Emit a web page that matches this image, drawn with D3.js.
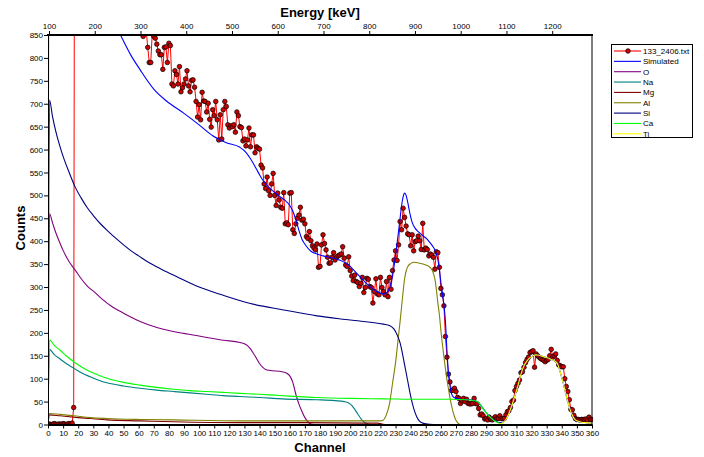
<!DOCTYPE html>
<html><head><meta charset="utf-8">
<script src="https://cdn.jsdelivr.net/npm/d3@7/dist/d3.min.js"></script>
<style>
body{margin:0;background:#fff}
svg{display:block}
text{font-family:"Liberation Sans",Arial,sans-serif;fill:#000}
</style>
</head><body>
<svg id="chart" width="704" height="457"></svg>
<script>
// ---------------- DATA ----------------
// measured spectrum: counts per channel, channel 0..360
const measuredCounts = [
  0,1,0,0,2,1,0,1,1,0,
  2,1,0,1,2,1,3,37,2150,2080,
  1990,1930,1870,1790,1740,1690,1620,1580,1530,1470,
  1440,1400,1350,1320,1290,1250,1230,1190,1170,1140,
  1110,1090,1080,1050,1030,1020,990,980,960,950,
  930,925,910,905,895,890,880,885,870,875,
  862,868,858,847,870,860,823,790,790,855,
  847,843,830,815,807,807,775,823,824,790,
  832,827,743,739,772,764,743,781,726,735,
  743,754,772,739,726,751,752,736,705,671,
  698,665,725,706,705,682,701,666,649,687,
  674,705,665,621,676,623,687,705,694,654,
  647,652,650,654,638,682,674,650,648,619,
  623,608,621,647,606,632,632,593,606,603,
  601,566,560,525,515,540,510,500,525,548,
  500,478,505,490,474,472,506,438,440,436,
  505,506,425,417,438,450,457,474,446,448,
  438,410,406,421,401,390,385,381,394,343,
  345,392,414,395,381,365,352,353,365,375,
  359,365,368,370,372,388,363,348,345,366,
  336,324,314,326,312,310,301,308,321,288,
  299,319,317,301,299,265,290,318,285,283,
  321,299,290,283,312,279,321,295,336,359,
  379,358,392,443,425,472,452,433,416,414,
  390,414,379,399,401,411,401,382,439,381,
  385,382,368,372,370,365,339,377,375,343,
  297,283,259,192,147,110,93,74,75,79,
  72,59,57,46,52,57,50,55,46,45,
  45,46,57,46,45,35,21,23,19,12,
  13,10,16,11,10,13,17,13,13,19,
  13,13,13,21,28,30,37,50,53,74,
  83,90,97,113,115,125,135,142,147,157,
  159,161,125,154,150,147,144,142,140,137,
  140,142,150,164,147,150,154,140,130,128,
  126,126,100,83,72,54,33,32,20,13,
  11,11,10,11,11,11,12,10,16,11,
  11
];

// simulated and elemental spectra: [channel, counts]
const simulatedSpectrum = [[0,0],[1,1570],[6,1380],[12,1230],[18,1130],[25,1030],[32,960],[40,905],[48,850],[55,805],[61,774],[70,732],[78,707],[90,679],[100,654],[109,630],[118,615],[127,605],[131,594],[134,580],[136,569],[138,557],[140,545],[142,534],[145,522],[148,512],[151,504],[154,496],[157,489],[160,478],[162,466],[164,447],[166,424],[168,405],[171,389],[174,378],[178,372],[182,368],[189,363],[195,356],[200,345],[204,331],[208,317],[211,307],[215,296],[219,288],[222,285],[224,287],[226,298],[228,324],[229,345],[230,370],[231,395],[232,422],[233,450],[234,478],[235,497],[236,505],[237,500],[238,486],[239,469],[240,453],[241,441],[243,428],[245,421],[248,412],[251,404],[253,396],[255,387],[256,381],[257,372],[258,360],[259,338],[260,310],[261,285],[262,262],[263,225],[264,162],[265,112],[266,85],[267,68],[268,61],[270,57],[273,55],[280,54],[283,51],[285,47],[287,39],[289,30],[291,22],[293,15],[295,10],[297,6],[299,4],[301,5],[303,11],[305,24],[307,42],[309,63],[311,85],[313,110],[315,128],[317,139],[319,146],[321,150],[323,152],[325,151],[327,149],[329,147],[331,145],[333,142],[335,139],[337,134],[338,125],[339,114],[340,102],[341,90],[342,76],[343,62],[344,50],[345,38],[346,28],[347,20],[348,14],[349,10],[351,7],[353,5],[356,4],[360,3]];

const spectrumO = [[0,0],[1,460],[3,440],[5,420],[8,395],[10,380],[14,355],[18,337],[22,318],[26,302],[30,291],[36,273],[42,258],[50,243],[61,225],[70,214],[83,203],[95,196],[105,190],[116,184],[127,179],[130,176],[132,172],[134,165],[136,155],[138,144],[140,133],[142,125],[144,120],[147,118],[155,115],[158,112],[160,106],[162,92],[164,66],[166,45],[168,29],[170,15],[172,6],[174,1],[176,0]];

const spectrumNa = [[0,0],[1,164],[4,153],[8,143],[12,133],[17,123],[22,113],[28,104],[34,96],[39,91],[50,84],[61,79],[72,75],[83,72],[94,69],[105,66],[116,63],[127,61],[140,59],[155,56],[178,54],[190,52],[196,50],[199,47],[201,42],[203,33],[205,23],[207,13],[209,6],[211,2],[213,0]];

const spectrumMg = [[0,0],[1,21],[8,19],[17,16],[28,13],[39,10],[61,8],[83,6],[127,4],[170,4],[210,3],[218,3],[221,1],[223,0]];

const spectrumAl = [[0,0],[1,24],[8,22],[17,19],[28,15],[39,13],[61,11],[83,10],[127,8],[160,8],[220,8],[222,10],[224,22],[226,45],[228,90],[230,135],[232,195],[233,225],[234,257],[235,290],[236,318],[237,335],[238,344],[240,351],[242,354],[246,352],[250,348],[252,345],[254,338],[255,330],[256,318],[257,295],[258,265],[259,240],[260,205],[261,175],[262,148],[263,122],[264,98],[265,78],[266,58],[267,42],[268,28],[269,17],[270,9],[271,4],[272,1],[273,0]];

const spectrumSi = [[0,0],[1,708],[3,672],[5,642],[8,606],[10,585],[14,550],[18,518],[22,494],[26,473],[30,456],[35,437],[40,421],[45,406],[50,392],[55,379],[60,368],[67,353],[75,339],[85,323],[100,300],[115,283],[134,264],[156,250],[178,237],[200,228],[222,219],[226,216],[229,208],[231,196],[233,178],[234,164],[236,130],[238,96],[240,62],[242,35],[244,17],[246,7],[248,3],[251,1],[255,0]];

const spectrumCa = [[0,0],[1,185],[4,173],[8,162],[12,150],[17,137],[22,126],[28,115],[34,107],[39,101],[50,92],[61,86],[72,81],[83,77],[94,74],[105,72],[116,70],[127,68],[140,66],[150,64],[160,62],[178,59],[200,57],[222,56],[250,55],[266,55],[277,54],[282,52],[284,50],[286,44],[288,34],[290,26],[292,18],[294,12],[296,7],[298,4],[300,1],[302,0]];

const spectrumTi = [[296,0],[299,1],[301,4],[303,11],[305,24],[307,42],[309,63],[311,85],[313,110],[315,128],[317,139],[319,146],[321,150],[323,152],[325,151],[327,149],[329,147],[331,145],[333,142],[335,139],[337,134],[338,125],[339,114],[340,102],[341,90],[342,76],[343,62],[344,50],[345,38],[346,28],[347,20],[348,14],[349,10],[351,7],[353,5],[356,4],[360,3]];

const seriesNames = ["133_2406.txt","Simulated","O","Na","Mg","Al","Si","Ca","Ti"];
const channelDomain = [0, 360];
const countDomain = [0, 850];
const energyDomain = [97.8, 1287];
const channelTicks = d3.range(0, 361, 10);
const channelMinorTicks = d3.range(0, 361, 2);
const countTicks = d3.range(0, 851, 50);
const countMinorTicks = d3.range(0, 851, 10);
const energyTicks = d3.range(100, 1201, 100);

// ---------------- STYLE ----------------
const colors = {
  "133_2406.txt":"#ff0000", "Simulated":"#0000ff", "O":"#800080", "Na":"#008080",
  "Mg":"#800000", "Al":"#808000", "Si":"#000080", "Ca":"#00ff00", "Ti":"#ffff00"
};
const L = 48, R = 592, T = 35, B = 424.5;

const svg = d3.select("#chart");
svg.append("rect").attr("width",704).attr("height",457).attr("fill","#fff");

const x = d3.scaleLinear().domain(channelDomain).range([L, R]);
const y = d3.scaleLinear().domain(countDomain).range([B, T]);
const xE = d3.scaleLinear().domain(energyDomain).range([L, R]);

svg.append("defs").append("clipPath").attr("id","plotclip")
  .append("rect").attr("x",L).attr("y",T-1).attr("width",R-L+1).attr("height",B-T+1.5);

const plot = svg.append("g").attr("clip-path","url(#plotclip)");

// measured
const measured = measuredCounts.map((v,i)=>[i,v]);
const lineLin = d3.line().x(d=>x(d[0])).y(d=>y(d[1]));
plot.append("path").datum(measured).attr("d",lineLin)
  .attr("fill","none").attr("stroke",colors["133_2406.txt"]).attr("stroke-width",1);
plot.append("g").selectAll("circle").data(measured).join("circle")
  .attr("cx",d=>x(d[0])).attr("cy",d=>y(d[1])).attr("r",2.3)
  .attr("fill","#cc0000").attr("stroke","#000").attr("stroke-width",0.7);

const lineSmooth = d3.line().x(d=>x(d[0])).y(d=>y(d[1])).curve(d3.curveMonotoneX);
const curves = [
  ["Simulated", simulatedSpectrum],
  ["O", spectrumO], ["Na", spectrumNa], ["Mg", spectrumMg], ["Al", spectrumAl],
  ["Si", spectrumSi], ["Ca", spectrumCa], ["Ti", spectrumTi]
];
curves.forEach(([name, pts])=>{
  plot.append("path").datum(pts).attr("d",lineSmooth)
    .attr("fill","none").attr("stroke",colors[name]).attr("stroke-width",1.1);
});

// ---------------- AXES ----------------
const fs = "8px";
const ff = "Liberation Sans, Arial, sans-serif";
// bottom
const gB = svg.append("g").attr("transform",`translate(0,${B})`);
gB.call(d3.axisBottom(x).tickValues(channelMinorTicks).tickFormat("").tickSize(2).tickSizeOuter(0));
gB.call(d3.axisBottom(x).tickValues(channelTicks).tickFormat(d3.format("d")).tickSize(4).tickSizeOuter(0).tickPadding(2));
gB.selectAll("text").attr("font-size",fs).attr("font-family",ff);
gB.selectAll(".domain").attr("stroke-width",2);
// left
const gL = svg.append("g").attr("transform",`translate(${L},0)`);
gL.call(d3.axisLeft(y).tickValues(countMinorTicks).tickFormat("").tickSize(2).tickSizeOuter(0));
gL.call(d3.axisLeft(y).tickValues(countTicks).tickFormat(d3.format("d")).tickSize(4).tickSizeOuter(0).tickPadding(1));
gL.selectAll("text").attr("font-size",fs).attr("font-family",ff);
// top
const gT = svg.append("g").attr("transform",`translate(0,${T})`);
gT.call(d3.axisTop(xE).tickValues(energyTicks).tickFormat(d3.format("d")).tickSize(4).tickSizeOuter(0).tickPadding(2));
gT.selectAll("text").attr("font-size",fs).attr("font-family",ff);
gT.select(".domain").remove();
svg.append("line").attr("x1",L-1).attr("x2",R+1).attr("y1",T).attr("y2",T).attr("stroke","#000").attr("stroke-width",2);
// right border
svg.append("line").attr("x1",R).attr("x2",R).attr("y1",T).attr("y2",B).attr("stroke","#000").attr("stroke-width",1);

// titles
svg.append("text").attr("x",320).attr("y",17).attr("text-anchor","middle")
  .attr("font-size","13px").attr("font-weight","bold").text("Energy [keV]");
svg.append("text").attr("x",320).attr("y",452).attr("text-anchor","middle")
  .attr("font-size","13px").attr("font-weight","bold").text("Channel");
svg.append("text").attr("transform","translate(25,228) rotate(-90)").attr("text-anchor","middle")
  .attr("font-size","13px").attr("font-weight","bold").text("Counts");

// ---------------- LEGEND ----------------
const lg = svg.append("g");
lg.append("rect").attr("x",611.5).attr("y",44.5).attr("width",81).attr("height",93)
  .attr("fill","#fff").attr("stroke","#000").attr("stroke-width",1);
seriesNames.forEach((name,i)=>{
  const yy = 51 + i*10.35;
  lg.append("line").attr("x1",614).attr("x2",641).attr("y1",yy).attr("y2",yy)
    .attr("stroke",colors[name]).attr("stroke-width",1.1);
  if(i===0){
    lg.append("circle").attr("cx",628).attr("cy",yy).attr("r",2.3)
      .attr("fill","#cc0000").attr("stroke","#000").attr("stroke-width",0.7);
  }
  lg.append("text").attr("x",643).attr("y",yy).attr("dy","0.35em")
    .attr("font-size","8px").text(name);
});
</script>
</body></html>
